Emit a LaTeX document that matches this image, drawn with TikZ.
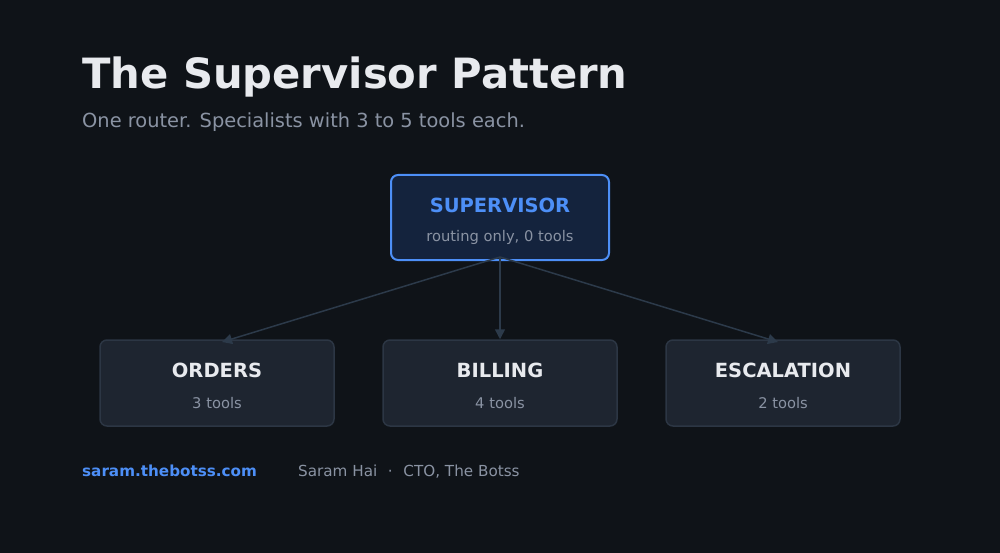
\documentclass[tikz,border=0pt]{standalone}
\usepackage{fontspec}
\setmainfont{DejaVu Sans}
\usetikzlibrary{arrows.meta}
\definecolor{bg}{HTML}{0F1318}
\definecolor{supfill}{HTML}{14233D}
\definecolor{blueacc}{HTML}{4D8FF7}
\definecolor{boxfill}{HTML}{1E2530}
\definecolor{boxedge}{HTML}{2C3644}
\definecolor{arrowc}{HTML}{2C3A4A}
\definecolor{titlec}{HTML}{E8EAEE}
\definecolor{subc}{HTML}{8A93A3}
\tikzset{
  specbox/.style={draw=boxedge, line width=1.5pt, fill=boxfill, rounded corners=7pt, minimum width=234pt, minimum height=86pt, inner sep=0pt},
  supbox/.style={draw=blueacc, line width=2pt, fill=supfill, rounded corners=7pt, minimum width=218pt, minimum height=85pt, inner sep=0pt},
  conn/.style={draw=arrowc, line width=1.5pt, -{Triangle[length=10pt,width=10pt]}},
  headtxt/.style={font=\bfseries\fontsize{19.5}{23}\selectfont, text=titlec, inner sep=0pt},
  subtxt/.style={font=\fontsize{14.7}{18}\selectfont, text=subc, inner sep=0pt}
}
\begin{document}
\begin{tikzpicture}[x=1pt,y=-1pt]
\fill[bg] (0,0) rectangle (1000,553);
\useasboundingbox (0,0) rectangle (1000,553);
\node[anchor=base west, inner sep=0pt, text=titlec, font=\bfseries\fontsize{41.7}{50}\selectfont] (title) at (82,88.5) {The Supervisor Pattern};
\node[anchor=base west, inner sep=0pt, text=subc, font=\fontsize{19.4}{23}\selectfont] (subtitle) at (82,127.5) {One router. Specialists with 3 to 5 tools each.};

\node[supbox] (sup) at (500,217.5) {};
\node[headtxt, text=blueacc] (suplabel) at (500,205) {SUPERVISOR};
\node[subtxt] (supsub) at (500,237.5) {routing only, 0 tools};

\node[specbox] (orders) at (217,383) {};
\node[headtxt] (ordl) at (217,370) {ORDERS};
\node[subtxt] (ords) at (217,403) {3 tools};

\node[specbox] (billing) at (500,383) {};
\node[headtxt] (bill) at (500,370) {BILLING};
\node[subtxt] (bils) at (500,403) {4 tools};

\node[specbox] (esc) at (783,383) {};
\node[headtxt] (escl) at (783,370) {ESCALATION};
\node[subtxt] (escs) at (783,403) {2 tools};

\coordinate (src) at (500,257);
\coordinate (tO) at (222,342);
\coordinate (tE) at (778,342);
\draw[conn] (src) -- (tO);
\draw[conn] (src) -- (billing.north);
\draw[conn] (src) -- (tE);

\node[anchor=base west, inner sep=0pt, text=blueacc, font=\bfseries\fontsize{15.2}{18}\selectfont] (site) at (82,476) {saram.thebotss.com};
\node[anchor=base west, inner sep=0pt, text=subc, font=\fontsize{15.2}{18}\selectfont] (author) at (298,476) {Saram Hai\hspace{0.7em}·\hspace{0.7em}CTO, The Botss};
\end{tikzpicture}
\end{document}
